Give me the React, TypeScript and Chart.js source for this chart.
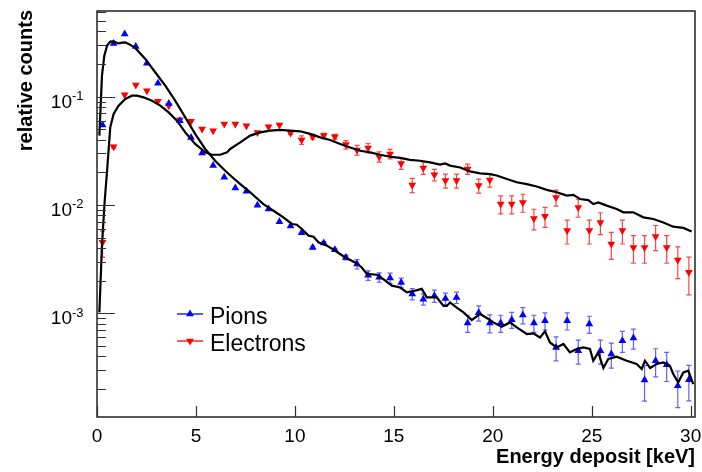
import React, { useEffect, useRef } from "react";
import { Chart, registerables } from "chart.js";

Chart.register(...registerables);

// ---------- data ----------
const binCenters = [
  0.28, 0.84, 1.40, 1.96, 2.52, 3.08, 3.63, 4.19, 4.75, 5.31,
  5.87, 6.43, 6.99, 7.55, 8.11, 8.67, 9.22, 9.78, 10.34, 10.90,
  11.46, 12.02, 12.58, 13.14, 13.70, 14.26, 14.81, 15.37, 15.93, 16.49,
  17.05, 17.61, 18.17, 18.73, 19.29, 19.85, 20.40, 20.96, 21.52, 22.08,
  22.64, 23.20, 23.76, 24.32, 24.88, 25.44, 25.99, 26.55, 27.11, 27.67,
  28.23, 28.79, 29.35, 29.91,
];

const pionCounts = [
  0.0548, 0.31, 0.379, 0.291, 0.203, 0.133, 0.0867, 0.060, 0.042, 0.0302,
  0.0232, 0.018, 0.01436, 0.01336, 0.00993, 0.00918, 0.00701, 0.0064, 0.00555, 0.00406,
  0.00446, 0.00386, 0.00328, 0.00285, 0.00224, 0.00215, 0.00212, 0.00192, 0.00151, 0.00135,
  0.00145, 0.00137, 0.0014, 0.000813, 0.00101, 0.000813, 0.000813, 0.000873, 0.000964, 0.000813,
  0.000855, 0.000484, 0.000855, 0.000452, 0.000796, 0.000452, 0.000421, 0.000558, 0.000591, 0.000242,
  0.000365, 0.000335, 0.000214, 0.000243,
];

const pionRelErr = [
  0, 0, 0, 0, 0, 0, 0, 0, 0, 0,
  0, 0, 0, 0, 0, 0, 0, 0, 0, 0.03,
  0.03, 0.03, 0.05, 0.1, 0.1, 0.1, 0.11, 0.1, 0.12, 0.12,
  0.13, 0.12, 0.12, 0.18, 0.16, 0.19, 0.18, 0.17, 0.17, 0.18,
  0.18, 0.25, 0.18, 0.25, 0.18, 0.25, 0.26, 0.22, 0.21, 0.36,
  0.29, 0.3, 0.37, 0.36,
];

const electronCounts = [
  0.00452, 0.0345, 0.104, 0.128, 0.1135, 0.0905, 0.0826, 0.0613, 0.0592, 0.0503,
  0.0485, 0.056, 0.056, 0.054, 0.0468, 0.0527, 0.0548, 0.0462, 0.0398, 0.0427,
  0.0437, 0.0427, 0.0361, 0.0322, 0.0336, 0.0279, 0.0296, 0.0242, 0.0153, 0.022,
  0.019, 0.0168, 0.0168, 0.0215, 0.0151, 0.017, 0.0102, 0.0102, 0.01057, 0.00752,
  0.00785, 0.01175, 0.0058, 0.0095, 0.0058, 0.0069, 0.00437, 0.0058, 0.00406, 0.00406,
  0.00513, 0.00406, 0.0031, 0.00239,
];

const electronRelErr = [
  0.27, 0.03, 0, 0, 0, 0, 0, 0, 0, 0,
  0, 0, 0, 0, 0, 0, 0, 0.03, 0.09, 0.05,
  0.05, 0.05, 0.09, 0.105, 0.1, 0.11, 0.1, 0.12, 0.15, 0.127,
  0.123, 0.148, 0.148, 0.11, 0.148, 0.14, 0.189, 0.189, 0.189, 0.215,
  0.209, 0.168, 0.248, 0.189, 0.248, 0.229, 0.28, 0.248, 0.286, 0.286,
  0.26, 0.286, 0.325, 0.38,
];

const pionSimX = [
  0.12, 0.25, 0.37, 0.51, 0.67, 0.84, 1.09, 1.28, 1.43, 1.60,
  1.93, 2.44, 2.94, 3.45, 3.95, 4.46, 4.96, 5.47, 5.97, 6.48,
  6.74, 7.24, 7.74, 8.41, 8.92, 9.42, 9.85, 10.10, 10.35, 10.69,
  10.94, 11.19, 11.62, 12.04, 12.54, 13.05, 13.38, 13.64, 14.14, 14.47,
  14.90, 15.32, 15.66, 16.08, 16.41, 16.67, 17.17, 17.51, 17.68, 17.84,
  18.18, 18.52, 18.94, 19.36, 19.78, 20.03, 20.45, 20.87, 21.21, 21.72,
  22.05, 22.39, 22.64, 22.89, 23.23, 23.57, 23.90, 24.24, 24.58, 24.91,
  25.08, 25.33, 25.59, 25.84, 26.26, 26.77, 27.27, 27.53, 27.69, 27.95,
  28.28, 28.62, 28.95, 29.12, 29.37, 29.63, 29.88, 30.13,
];
const pionSimY = [
  0.0437, 0.156, 0.239, 0.296, 0.322, 0.324, 0.310, 0.315, 0.317, 0.307,
  0.282, 0.223, 0.168, 0.1265, 0.0918, 0.0644, 0.0453, 0.0329, 0.0256, 0.0207,
  0.0187, 0.0156, 0.0131, 0.0102, 0.00885, 0.00769, 0.00668, 0.00658, 0.0060, 0.00521,
  0.00509, 0.00452, 0.00421, 0.00378, 0.00328, 0.00295, 0.00265, 0.00231, 0.00227, 0.00207,
  0.0018, 0.00173, 0.00156, 0.00162, 0.00168, 0.0014, 0.0014, 0.00117, 0.00117, 0.00126,
  0.00113, 0.00102, 0.000867, 0.000986, 0.000886, 0.000824, 0.000752, 0.000824, 0.000741, 0.000644,
  0.000652, 0.000598, 0.000681, 0.000538, 0.000484, 0.000521, 0.000436, 0.000468, 0.000484, 0.000468,
  0.000365, 0.000436, 0.000313, 0.000378, 0.000397, 0.000365, 0.00034, 0.000306, 0.000365, 0.000313,
  0.00034, 0.000352, 0.000328, 0.000275, 0.00023, 0.000284, 0.000295, 0.000222,
];

const electronSimX = [
  0.12, 0.25, 0.39, 0.51, 0.67, 0.84, 1.09, 1.43, 1.77, 2.02,
  2.35, 2.78, 3.20, 3.62, 4.04, 4.46, 4.96, 5.47, 5.81, 6.23,
  6.57, 6.73, 7.24, 7.74, 8.25, 8.75, 9.26, 9.76, 10.27, 10.77,
  11.28, 11.78, 12.29, 12.79, 13.30, 13.80, 14.31, 14.81, 15.32, 15.82,
  16.33, 16.83, 17.34, 17.59, 17.84, 18.35, 18.85, 19.36, 19.86, 20.20,
  20.71, 21.21, 21.72, 22.22, 22.73, 23.23, 23.74, 24.07, 24.41, 24.83,
  25.08, 25.33, 25.76, 26.26, 26.60, 27.10, 27.61, 28.11, 28.62, 29.12,
  29.63, 30.05,
];
const electronSimY = [
  0.00102, 0.00421, 0.01096, 0.02075, 0.0521, 0.0692, 0.0826, 0.0953, 0.1021, 0.1021,
  0.0986, 0.0918, 0.0826, 0.0716, 0.0600, 0.0468, 0.0366, 0.0306, 0.0291, 0.0291,
  0.0306, 0.0329, 0.0378, 0.0437, 0.0468, 0.0485, 0.0493, 0.0485, 0.0479, 0.0453,
  0.0421, 0.0398, 0.0366, 0.0340, 0.0317, 0.0306, 0.0291, 0.0279, 0.0272, 0.0261,
  0.0256, 0.0247, 0.0236, 0.0242, 0.0231, 0.0222, 0.0204, 0.0196, 0.0193, 0.0187,
  0.0174, 0.0162, 0.0156, 0.0148, 0.0138, 0.0131, 0.0122, 0.0124, 0.01135, 0.0111,
  0.0102, 0.01057, 0.00986, 0.00918, 0.00855, 0.00855, 0.00769, 0.00743, 0.00690, 0.00631,
  0.00614, 0.00570,
];

const xTickValues = [0, 5, 10, 15, 20, 25, 30];
const xTickLabels = ["0", "5", "10", "15", "20", "25", "30"];
const yMajorTicks = [1e-3, 1e-2, 1e-1];
const yMajorExponents = ["-3", "-2", "-1"];
const yMinorTicks = [
  2e-4, 3e-4, 4e-4, 5e-4, 6e-4, 7e-4, 8e-4, 9e-4,
  2e-3, 3e-3, 4e-3, 5e-3, 6e-3, 7e-3, 8e-3, 9e-3,
  2e-2, 3e-2, 4e-2, 5e-2, 6e-2, 7e-2, 8e-2, 9e-2,
  2e-1, 3e-1, 4e-1, 5e-1, 6e-1,
];
const xTitle = "Energy deposit [keV]";
const yTitle = "relative counts";
const seriesNames = ["Pions", "Electrons"];

const X_MIN = 0;
const X_MAX = 30.22;
const Y_MIN = 1.103e-4;
const Y_MAX = 0.618;

const FONT = '"Liberation Sans", Arial, Helvetica, sans-serif';
const BLUE = "#0000ff";
const RED = "#ff0000";

function drawTriangle(ctx: CanvasRenderingContext2D, x: number, y: number, r: number, down: boolean, color: string) {
  const s = down ? -1 : 1;
  ctx.beginPath();
  ctx.moveTo(x, y - s * r);
  ctx.lineTo(x + r * Math.sin((2 * Math.PI) / 3), y + s * r * 0.5);
  ctx.lineTo(x - r * Math.sin((2 * Math.PI) / 3), y + s * r * 0.5);
  ctx.closePath();
  ctx.fillStyle = color;
  ctx.fill();
}

const rootStylePlugin = {
  id: "rootStyle",
  beforeDatasetsDraw(chart: any) {
    const { ctx, chartArea, scales } = chart;
    const xs = scales.x;
    const ys = scales.y;
    ctx.save();
    ctx.beginPath();
    ctx.rect(chartArea.left, chartArea.top, chartArea.right - chartArea.left, chartArea.bottom - chartArea.top);
    ctx.clip();
    const drawErr = (vals: number[], errs: number[], color: string) => {
      ctx.strokeStyle = color;
      ctx.lineWidth = 1.2;
      for (let i = 0; i < vals.length; i++) {
        const e = errs[i];
        if (!e) continue;
        const px = xs.getPixelForValue(binCenters[i]);
        const yt = ys.getPixelForValue(vals[i] * (1 + e));
        const yb = ys.getPixelForValue(vals[i] * (1 - e));
        ctx.beginPath();
        ctx.moveTo(px, yt);
        ctx.lineTo(px, yb);
        ctx.moveTo(px - 2.5, yt);
        ctx.lineTo(px + 2.5, yt);
        ctx.moveTo(px - 2.5, yb);
        ctx.lineTo(px + 2.5, yb);
        ctx.stroke();
      }
    };
    drawErr(pionCounts, pionRelErr, "rgba(30,30,255,0.7)");
    drawErr(electronCounts, electronRelErr, "rgba(255,20,20,0.8)");
    ctx.restore();
  },
  afterDraw(chart: any) {
    const { ctx, chartArea, scales } = chart;
    const xs = scales.x;
    const ys = scales.y;
    const { left, right, top, bottom } = chartArea;
    ctx.save();

    // frame
    ctx.strokeStyle = "#222";
    ctx.lineWidth = 1.5;
    ctx.strokeRect(left, top, right - left, bottom - top);

    // y ticks (inside)
    ctx.lineWidth = 1.2;
    ctx.strokeStyle = "#333";
    ctx.beginPath();
    for (const v of yMajorTicks) {
      const py = Math.round(ys.getPixelForValue(v)) + 0.5;
      ctx.moveTo(left, py);
      ctx.lineTo(left + 18, py);
    }
    for (const v of yMinorTicks) {
      const py = Math.round(ys.getPixelForValue(v)) + 0.5;
      if (py < top || py > bottom) continue;
      ctx.moveTo(left, py);
      ctx.lineTo(left + 9, py);
    }
    // x ticks (inside)
    for (const v of xTickValues) {
      const px = Math.round(xs.getPixelForValue(v)) + 0.5;
      ctx.moveTo(px, bottom);
      ctx.lineTo(px, bottom - 11);
    }
    ctx.stroke();

    // x tick labels
    ctx.fillStyle = "#000";
    ctx.font = `19px ${FONT}`;
    ctx.textAlign = "center";
    ctx.textBaseline = "alphabetic";
    xTickValues.forEach((v, i) => {
      ctx.fillText(xTickLabels[i], xs.getPixelForValue(v), bottom + 24.5);
    });

    // y tick labels 10^n
    yMajorTicks.forEach((v, i) => {
      const py = ys.getPixelForValue(v);
      ctx.font = `19px ${FONT}`;
      ctx.textAlign = "right";
      ctx.fillText("10", left - 25, py + 11);
      ctx.font = `13px ${FONT}`;
      ctx.textAlign = "left";
      ctx.fillText(yMajorExponents[i], left - 25, py + 3.5);
    });

    // axis titles
    ctx.font = `bold 20px ${FONT}`;
    ctx.textAlign = "right";
    ctx.fillText(xTitle, right, bottom + 46);
    ctx.save();
    ctx.translate(32, top - 1);
    ctx.rotate(-Math.PI / 2);
    ctx.textAlign = "right";
    ctx.fillText(yTitle, 0, 0);
    ctx.restore();

    // legend
    const legendItems = [
      { name: seriesNames[0], color: BLUE, down: false, y: 314 },
      { name: seriesNames[1], color: RED, down: true, y: 341 },
    ];
    for (const it of legendItems) {
      ctx.strokeStyle = it.color;
      ctx.lineWidth = 1.3;
      ctx.beginPath();
      ctx.moveTo(177, it.y);
      ctx.lineTo(203, it.y);
      ctx.stroke();
      drawTriangle(ctx, 190, it.y, 4.5, it.down, it.color);
      ctx.fillStyle = "#000";
      ctx.font = `23px ${FONT}`;
      ctx.textAlign = "left";
      ctx.fillText(it.name, 210, it.y + 9.5);
    }
    ctx.restore();
  },
};

export default function App() {
  const canvasRef = useRef<HTMLCanvasElement | null>(null);

  useEffect(() => {
    if (!canvasRef.current) return;
    const chart = new Chart(canvasRef.current, {
      type: "scatter",
      data: {
        datasets: [
          {
            label: "Pion simulation",
            data: pionSimX.map((x, i) => ({ x, y: pionSimY[i] })),
            showLine: true,
            borderColor: "#000",
            borderWidth: 2.2,
            pointRadius: 0,
            tension: 0,
            order: 0,
          },
          {
            label: "Electron simulation",
            data: electronSimX.map((x, i) => ({ x, y: electronSimY[i] })),
            showLine: true,
            borderColor: "#000",
            borderWidth: 2.2,
            pointRadius: 0,
            tension: 0,
            order: 0,
          },
          {
            label: seriesNames[0],
            data: binCenters.map((x, i) => ({ x, y: pionCounts[i] })),
            showLine: false,
            pointStyle: "triangle",
            pointRadius: 4.5,
            pointBorderWidth: 0,
            backgroundColor: BLUE,
            borderColor: BLUE,
            order: 1,
          },
          {
            label: seriesNames[1],
            data: binCenters.map((x, i) => ({ x, y: electronCounts[i] })),
            showLine: false,
            pointStyle: "triangle",
            rotation: 180,
            pointRadius: 4.5,
            pointBorderWidth: 0,
            backgroundColor: RED,
            borderColor: RED,
            order: 1,
          },
        ],
      } as any,
      options: {
        animation: false,
        responsive: false,
        devicePixelRatio: 1,
        layout: { padding: { left: 97, right: 7, top: 11, bottom: 55 } },
        scales: {
          x: { type: "linear", min: X_MIN, max: X_MAX, display: false },
          y: { type: "logarithmic", min: Y_MIN, max: Y_MAX, display: false },
        },
        plugins: {
          legend: { display: false },
          tooltip: { enabled: false },
        },
        events: [],
      } as any,
      plugins: [rootStylePlugin],
    });
    return () => chart.destroy();
  }, []);

  return (
    <div style={{ position: "absolute", left: 0, top: 0, width: 702, height: 472, background: "#fff" }}>
      <canvas ref={canvasRef} width={702} height={472} style={{ display: "block" }} />
    </div>
  );
}
